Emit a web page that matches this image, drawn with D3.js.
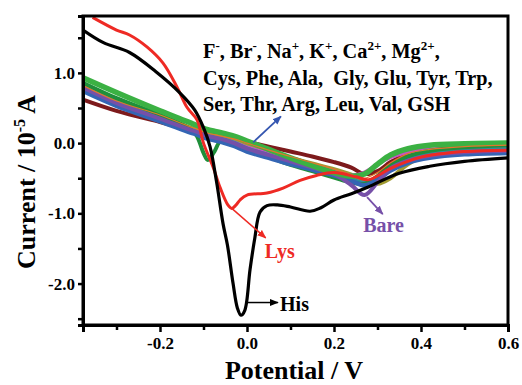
<!DOCTYPE html>
<html>
<head>
<meta charset="utf-8">
<script src="https://cdn.jsdelivr.net/npm/d3@7/dist/d3.min.js"></script>
<style>
  body { margin: 0; background: #fff; }
  svg text { font-family: "Liberation Serif", "Times New Roman", serif; font-weight: bold; }
</style>
</head>
<body>
<script>
// potential grid (V) shared by the interferent curves
const gridX = [-0.377, -0.3, -0.2, -0.13, -0.115, -0.1, -0.09, -0.075, -0.06, -0.03, 0.0, 0.05,
  0.1, 0.15, 0.2, 0.24, 0.27, 0.3, 0.33, 0.37, 0.42, 0.5, 0.6];

// current (10^-5 A) of the bundle of curves
const greenA = [0.93, 0.72, 0.46, 0.29, 0.25, 0.21, 0.19, 0.17, 0.15, 0.1, 0.03, -0.09, -0.21, -0.32, -0.42, -0.47, -0.44, -0.3, -0.17, -0.08, -0.03, -0.01, 0.0];
const greenB = [0.86, 0.64, 0.4, 0.2, 0.1, -0.14, -0.24, -0.12, 0.03, -0.02, -0.1, -0.2, -0.31, -0.4, -0.49, -0.56, -0.58, -0.47, -0.32, -0.19, -0.11, -0.06, -0.03];
const maroon = [0.62, 0.46, 0.3, 0.19, 0.17, 0.15, 0.14, 0.13, 0.11, 0.07, 0.02, -0.05, -0.12, -0.19, -0.27, -0.35, -0.44, -0.4, -0.27, -0.16, -0.1, -0.07, -0.06];
const blue = [0.74, 0.53, 0.31, 0.15, 0.12, 0.08, 0.06, 0.04, 0.02, -0.04, -0.12, -0.21, -0.3, -0.38, -0.46, -0.54, -0.6, -0.52, -0.39, -0.28, -0.21, -0.16, -0.14];
const bare = [0.79, 0.57, 0.35, 0.19, 0.16, 0.12, 0.1, 0.08, 0.06, 0.0, -0.08, -0.17, -0.26, -0.35, -0.44, -0.6, -0.74, -0.56, -0.36, -0.25, -0.18, -0.13, -0.11];
const olive = [0.84, 0.62, 0.39, 0.22, 0.19, 0.15, 0.13, 0.11, 0.09, 0.04, -0.03, -0.12, -0.21, -0.29, -0.37, -0.45, -0.53, -0.58, -0.5, -0.3, -0.16, -0.11, -0.09];
const magenta = [0.76, 0.56, 0.34, 0.19, 0.16, 0.12, 0.1, 0.08, 0.06, 0.01, -0.06, -0.15, -0.24, -0.32, -0.4, -0.46, -0.42, -0.3, -0.2, -0.13, -0.09, -0.07, -0.06];
const teal = [0.8, 0.59, 0.37, 0.2, 0.17, 0.13, 0.11, 0.09, 0.07, 0.01, -0.07, -0.17, -0.27, -0.35, -0.44, -0.51, -0.56, -0.48, -0.35, -0.23, -0.15, -0.1, -0.08];
const orange = [0.82, 0.6, 0.4, 0.23, 0.2, 0.16, 0.14, 0.12, 0.1, 0.06, 0.0, -0.1, -0.19, -0.28, -0.37, -0.45, -0.5, -0.42, -0.28, -0.15, -0.09, -0.05, -0.03];

// His (black)
const hisX = [-0.377, -0.33, -0.27, -0.21, -0.155, -0.12, -0.1, -0.085, -0.07, -0.055, -0.045, -0.032, -0.022,
  -0.014, -0.005, 0.007, 0.018, 0.03, 0.046, 0.07, 0.1, 0.145, 0.17, 0.2, 0.24, 0.28, 0.35, 0.42, 0.5, 0.6];
const hisY = [1.61, 1.43, 1.29, 1.02, 0.72, 0.47, 0.22, -0.05, -0.55, -1.15, -1.45, -2.0, -2.35,
  -2.45, -2.38, -1.8, -1.35, -0.98, -0.89, -0.88, -0.91, -0.97, -0.92, -0.81, -0.72, -0.62, -0.43, -0.33, -0.26, -0.21];

// Lys (red)
const lysX = [-0.355, -0.3, -0.27, -0.23, -0.193, -0.161, -0.138, -0.115, -0.1, -0.078, -0.062, -0.044, -0.035,
  -0.025, -0.016, 0.0, 0.046, 0.083, 0.122, 0.16, 0.2, 0.25, 0.28, 0.33, 0.4, 0.5, 0.6];
const lysY = [1.79, 1.61, 1.54, 1.37, 1.14, 0.8, 0.51, 0.33, 0.0, -0.34, -0.63, -0.88, -0.93,
  -0.88, -0.81, -0.74, -0.71, -0.64, -0.53, -0.46, -0.42, -0.48, -0.52, -0.36, -0.2, -0.12, -0.1];

const xTicks = [-0.2, 0.0, 0.2, 0.4, 0.6];
const xMinor = [-0.3, -0.1, 0.1, 0.3, 0.5];
const yTicks = [1.0, 0.0, -1.0, -2.0];
const yMinor = [1.5, 0.5, -0.5, -1.5, -2.5];

const bundle = [
  { name: 'maroon', y: maroon, color: '#7d1a1c', w: 4 },
  { name: 'olive', y: olive, color: '#a09a30', w: 4 },
  { name: 'magenta', y: magenta, color: '#c752c4', w: 4 },
  { name: 'teal', y: teal, color: '#2f8c9c', w: 3.5 },
  { name: 'greenB', y: greenB, color: '#1f8f3a', w: 4 },
  { name: 'blue', y: blue, color: '#3465b4', w: 4.5 },
  { name: 'bare', y: bare, color: '#7650a8', w: 4 },
  { name: 'greenA', y: greenA, color: '#3bb143', w: 5.5 },
  { name: 'orange', y: orange, color: '#e2762c', w: 1.2 }
];

const width = 522, height = 385;
const margin = { top: 16, right: 14, bottom: 60, left: 83 };
const pLeft = margin.left, pRight = width - margin.right;
const pTop = margin.top, pBottom = height - margin.bottom;

const x = d3.scaleLinear().domain([-0.377, 0.6]).range([pLeft, pRight]);
const y = d3.scaleLinear().domain([-2.59, 1.81]).range([pBottom, pTop]);

const svg = d3.select('body').append('svg')
  .attr('width', width)
  .attr('height', height);

const defs = svg.append('defs');
defs.append('clipPath').attr('id', 'plotclip')
  .append('rect')
  .attr('x', pLeft).attr('y', pTop)
  .attr('width', pRight - pLeft)
  .attr('height', pBottom - pTop);

function arrowHead(id, color) {
  defs.append('marker')
    .attr('id', id)
    .attr('viewBox', '0 0 10 10')
    .attr('refX', 9).attr('refY', 5)
    .attr('markerWidth', 9).attr('markerHeight', 9)
    .attr('markerUnits', 'userSpaceOnUse')
    .attr('orient', 'auto')
    .append('path')
    .attr('d', 'M0,1 L10,5 L0,9 Z')
    .attr('fill', color);
}
arrowHead('ah-blue', '#3556b0');
arrowHead('ah-red', '#ee2a24');
arrowHead('ah-black', '#000');
arrowHead('ah-purple', '#7650a8');

const line = d3.line()
  .x(d => x(d[0]))
  .y(d => y(d[1]))
  .curve(d3.curveCatmullRom.alpha(0.5));

const plot = svg.append('g').attr('clip-path', 'url(#plotclip)');

plot.selectAll('path.bundle')
  .data(bundle)
  .enter()
  .append('path')
  .attr('class', 'bundle')
  .attr('fill', 'none')
  .attr('stroke', d => d.color)
  .attr('stroke-width', d => d.w)
  .attr('stroke-linejoin', 'round')
  .attr('d', d => line(gridX.map((v, i) => [v, d.y[i]])));

plot.append('path')
  .attr('fill', 'none')
  .attr('stroke', '#ee2a24')
  .attr('stroke-width', 3)
  .attr('d', line(lysX.map((v, i) => [v, lysY[i]])));

plot.append('path')
  .attr('fill', 'none')
  .attr('stroke', '#000')
  .attr('stroke-width', 3.2)
  .attr('d', line(hisX.map((v, i) => [v, hisY[i]])));

// axes
svg.append('g')
  .attr('transform', `translate(0,${pBottom})`)
  .call(d3.axisBottom(x).tickValues(xTicks).tickFormat(d3.format('.1f')).tickSize(7).tickPadding(5));
svg.append('g')
  .attr('transform', `translate(0,${pBottom})`)
  .call(d3.axisBottom(x).tickValues(xMinor).tickFormat('').tickSize(5));

svg.append('g')
  .attr('transform', `translate(${pLeft},0)`)
  .call(d3.axisLeft(y).tickValues(yTicks).tickFormat(d3.format('.1f')).tickSize(5).tickPadding(3));
svg.append('g')
  .attr('transform', `translate(${pLeft},0)`)
  .call(d3.axisLeft(y).tickValues(yMinor).tickFormat('').tickSize(5));

svg.selectAll('.domain').attr('stroke', '#000').attr('stroke-width', 3);
svg.selectAll('.tick line').attr('stroke', '#000').attr('stroke-width', 2.5);
svg.selectAll('.tick text')
  .attr('fill', '#000')
  .style('font-size', '17px')
  .text(function() { return d3.select(this).text().replace('−', '-'); });

// box frame
svg.append('rect')
  .attr('x', pLeft).attr('y', pTop)
  .attr('width', pRight - pLeft)
  .attr('height', pBottom - pTop)
  .attr('fill', 'none')
  .attr('stroke', '#000')
  .attr('stroke-width', 3);

// axis titles
svg.append('text')
  .attr('x', 294).attr('y', 379)
  .attr('text-anchor', 'middle')
  .style('font-size', '26px')
  .text('Potential / V');

const yt = svg.append('text')
  .attr('transform', 'translate(35,182) rotate(-90)')
  .attr('text-anchor', 'middle')
  .style('font-size', '26px');
yt.append('tspan').text('Current / 10');
yt.append('tspan').attr('dy', -10).style('font-size', '16px').text('-5');
yt.append('tspan').attr('dy', 10).text(' A');

// interferent list
const listLines = [
  [['F', 0], ['-', 1], [', Br', 0], ['-', 1], [', Na', 0], ['+', 1], [', K', 0], ['+', 1], [', Ca', 0], ['2+', 1], [', Mg', 0], ['2+', 1], [',', 0]],
  [['Cys, Phe, Ala,  Gly, Glu, Tyr, Trp,', 0]],
  [['Ser, Thr, Arg, Leu, Val, GSH', 0]]
];
const baselines = [58, 85, 111];
listLines.forEach((parts, i) => {
  const t = svg.append('text')
    .attr('x', 203).attr('y', baselines[i])
    .style('font-size', '20.3px')
    .style('white-space', 'pre');
  let raised = false;
  parts.forEach(p => {
    const s = t.append('tspan').text(p[0]);
    if (p[1]) {
      s.attr('dy', raised ? 0 : -8).style('font-size', '13px');
      raised = true;
    } else {
      s.attr('dy', raised ? 8 : 0);
      raised = false;
    }
  });
});

// annotations (data coordinates)
function arrow(xa, ya, xb, yb, color, id, w) {
  svg.append('line')
    .attr('x1', x(xa)).attr('y1', y(ya))
    .attr('x2', x(xb)).attr('y2', y(yb))
    .attr('stroke', color)
    .attr('stroke-width', w)
    .attr('marker-end', `url(#${id})`);
}
arrow(0.014, 0.01, 0.078, 0.38, '#3556b0', 'ah-blue', 1.8);
arrow(-0.035, -0.93, 0.043, -1.35, '#ee2a24', 'ah-red', 1.5);
arrow(0.0, -2.27, 0.071, -2.27, '#000', 'ah-black', 1.5);
arrow(0.276, -0.77, 0.312, -1.01, '#7650a8', 'ah-purple', 1.8);

svg.append('text').attr('x', x(0.041)).attr('y', y(-1.63))
  .attr('fill', '#ee2a24').style('font-size', '20px').text('Lys');
svg.append('text').attr('x', x(0.076)).attr('y', y(-2.39))
  .attr('fill', '#000').style('font-size', '20px').text('His');
svg.append('text').attr('x', x(0.267)).attr('y', y(-1.27))
  .attr('fill', '#7650a8').style('font-size', '20px').text('Bare');
</script>
</body>
</html>
